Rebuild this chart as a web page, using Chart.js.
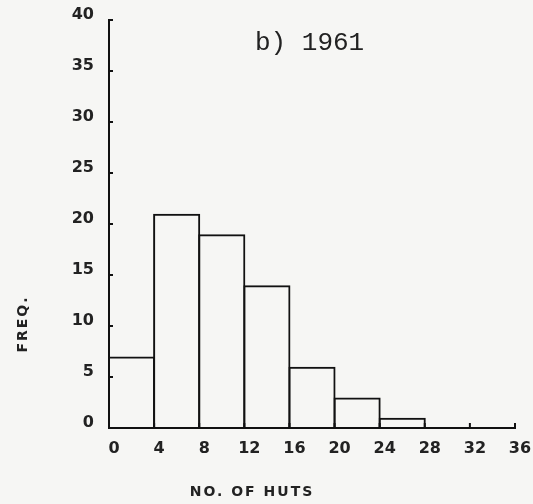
<!DOCTYPE html>
<html>
<head>
<meta charset="utf-8">
<script src="https://cdn.jsdelivr.net/npm/chart.js@4.4.1/dist/chart.umd.min.js"></script>
<style>
  html, body { margin: 0; padding: 0; background: #f6f6f4; }
  #wrap { width: 533px; height: 504px; }
</style>
</head>
<body>
<div id="wrap"><canvas id="histChart"></canvas></div>
<script>
// bin edges (no. of huts) and counts for 1961
const binStarts = [0, 4, 8, 12, 16, 20, 24, 28, 32];
const binWidth = 4;
const freqs = [7, 21, 19, 14, 6, 3, 1, 0, 0];
const xTicks = [0, 4, 8, 12, 16, 20, 24, 28, 32, 36];
const yTicks = [0, 5, 10, 15, 20, 25, 30, 35, 40];

const plotFont = { family: "DejaVu Sans", weight: "bold", size: 16 };

const extras = {
  id: "extras",
  afterDraw(chart) {
    const ctx = chart.ctx;
    const xs = chart.scales.x;
    const ys = chart.scales.y;
    ctx.save();
    ctx.strokeStyle = "#111";
    ctx.lineWidth = 2;
    // small inward ticks
    yTicks.forEach(v => {
      const p = ys.getPixelForValue(v);
      ctx.beginPath();
      ctx.moveTo(xs.left, p);
      ctx.lineTo(xs.left + 4, p);
      ctx.stroke();
    });
    xTicks.forEach(v => {
      const p = xs.getPixelForValue(v);
      ctx.beginPath();
      ctx.moveTo(p, ys.bottom);
      ctx.lineTo(p, ys.bottom - 5);
      ctx.stroke();
    });

    // panel label
    ctx.fillStyle = "#222";
    ctx.font = "26px 'Liberation Mono'";
    ctx.textAlign = "left";
    ctx.textBaseline = "middle";
    ctx.fillText("b) 1961", chart.chartArea.left + 146, chart.chartArea.top + 23);

    // axis titles
    ctx.font = "bold 14px 'DejaVu Sans'";
    ctx.letterSpacing = "2px";
    ctx.textAlign = "center";
    ctx.fillText("NO. OF HUTS", chart.chartArea.left + 143, chart.chartArea.bottom + 64);
    ctx.translate(23, chart.chartArea.top + 304);
    ctx.rotate(-Math.PI / 2);
    ctx.fillText("FREQ.", 0, 0);
    ctx.restore();
  }
};

new Chart(document.getElementById("histChart"), {
  type: "bar",
  data: {
    datasets: [{
      data: binStarts.map((s, i) => ({ x: s + binWidth / 2, y: freqs[i] })),
      backgroundColor: "rgba(255,255,255,0)",
      borderColor: "#111",
      borderWidth: 2,
      barPercentage: 1.045, // slight overlap so neighbouring edges share one line
      categoryPercentage: 1,
      borderSkipped: "bottom"
    }]
  },
  options: {
    responsive: true,
    maintainAspectRatio: false,
    animation: false,
    layout: { padding: { top: 20, right: 18, left: 0, bottom: 0 } },
    plugins: {
      legend: { display: false },
      tooltip: { enabled: false }
    },
    scales: {
      x: {
        type: "linear",
        min: 0,
        max: 36,
        offset: false,
        afterBuildTicks: s => { s.ticks = xTicks.map(v => ({ value: v })); },
        afterFit: s => { s.height = 76; },
        grid: { display: false },
        border: { display: true, color: "#111", width: 2 },
        ticks: {
          color: "#222",
          font: plotFont,
          padding: 3,
          labelOffset: 5,
          maxRotation: 0,
          autoSkip: false
        }
      },
      y: {
        min: 0,
        max: 40,
        afterBuildTicks: s => { s.ticks = yTicks.map(v => ({ value: v })); },
        afterFit: s => { s.width = 109; },
        grid: { display: false },
        border: { display: true, color: "#111", width: 2 },
        ticks: {
          color: "#222",
          font: plotFont,
          padding: 7,
          labelOffset: -5
        }
      }
    }
  },
  plugins: [extras]
});
</script>
</body>
</html>
